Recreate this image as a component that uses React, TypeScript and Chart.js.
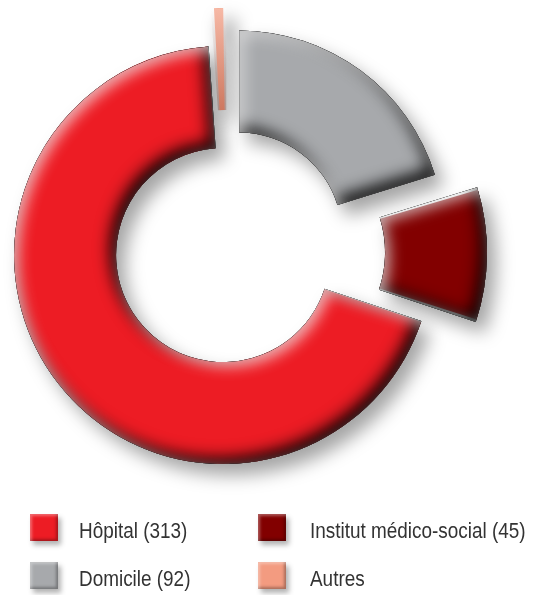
import React, { useEffect, useRef } from "react";
import { Chart, ArcElement, DoughnutController } from "chart.js";

Chart.register(ArcElement, DoughnutController);

// Data (clockwise from 12 o'clock)
const categories = ["Domicile", "Institut médico-social", "Hôpital", "Autres"];
const values = [92, 45, 313, 5];
const showValueInLegend = [true, true, true, false];
const colors = ["#A7A9AC", "#820000", "#ED1C24", "#F39B80"];
// legend reading order: column 1 (Hôpital, Domicile), column 2 (Institut, Autres)
const legendOrder = [2, 0, 1, 3];

function arcGeom(el: any) {
  const p = el.getProps(
    ["x", "y", "startAngle", "endAngle", "innerRadius", "outerRadius", "circumference"],
    true
  );
  const off = (el.options.offset || 0) / 4;
  const half = (p.startAngle + p.endAngle) / 2;
  const fix = 1 - Math.sin(Math.min(Math.PI, p.circumference || 0));
  const ro = off * fix;
  return {
    cx: p.x + Math.cos(half) * off,
    cy: p.y + Math.sin(half) * off,
    R: p.outerRadius + ro,
    r: p.innerRadius + ro,
    s: p.startAngle,
    e: p.endAngle,
    c: p.circumference,
  };
}

function addArcPath(ctx: CanvasRenderingContext2D, g: any) {
  ctx.moveTo(g.cx + Math.cos(g.s) * g.R, g.cy + Math.sin(g.s) * g.R);
  ctx.arc(g.cx, g.cy, g.R, g.s, g.e);
  ctx.arc(g.cx, g.cy, g.r, g.e, g.s, true);
  ctx.closePath();
}

const shadowPlugin = {
  id: "bevelShadow",
  beforeDatasetsDraw(chart: any) {
    const ctx = chart.ctx as CanvasRenderingContext2D;
    const meta = chart.getDatasetMeta(0);
    ctx.save();
    ctx.translate(-10000, 0);
    ctx.shadowColor = "rgba(0,0,0,0.36)";
    ctx.shadowBlur = 18;
    ctx.shadowOffsetX = 10000 + 9;
    ctx.shadowOffsetY = 11;
    ctx.fillStyle = "#000";
    meta.data.forEach((el: any) => {
      const g = arcGeom(el);
      ctx.beginPath();
      addArcPath(ctx, g);
      ctx.fill();
    });
    ctx.restore();
  },
  afterDatasetsDraw(chart: any) {
    const ctx = chart.ctx as CanvasRenderingContext2D;
    const meta = chart.getDatasetMeta(0);
    meta.data.forEach((el: any) => {
      const g = arcGeom(el);
      const thin = g.c < 0.2;
      ctx.save();
      ctx.beginPath();
      addArcPath(ctx, g);
      ctx.clip();
      if (thin) {
        // thin slice: soft vertical shading only
        const grad = ctx.createLinearGradient(0, g.cy - g.R, 0, g.cy - g.r);
        grad.addColorStop(0, "rgba(255,255,255,0.3)");
        grad.addColorStop(1, "rgba(120,40,20,0.3)");
        ctx.fillStyle = grad;
        ctx.fillRect(g.cx - g.R, g.cy - g.R, 2 * g.R, 2 * g.R);
        ctx.restore();
        return;
      }
      ctx.beginPath();
      ctx.rect(-5000, -5000, 10000, 10000);
      addArcPath(ctx, g);
      ctx.fillStyle = "#000";
      ctx.shadowColor = "rgba(0,0,0,0.95)";
      ctx.shadowBlur = 16;
      ctx.shadowOffsetX = -6;
      ctx.shadowOffsetY = -6;
      ctx.fill("evenodd");
      ctx.shadowColor = "rgba(255,255,255,0.65)";
      ctx.shadowBlur = 14;
      ctx.shadowOffsetX = 5;
      ctx.shadowOffsetY = 5;
      ctx.fill("evenodd");
      ctx.restore();
    });
  },
};

export default function App() {
  const canvasRef = useRef<HTMLCanvasElement | null>(null);

  useEffect(() => {
    if (!canvasRef.current) return;
    const chart = new Chart(canvasRef.current, {
      type: "doughnut",
      data: {
        labels: categories,
        datasets: [
          {
            data: values,
            backgroundColor: colors,
            borderWidth: 0,
            offset: [82, 158, 20, 83],
            hoverOffset: 0,
          },
        ],
      },
      options: {
        animation: false,
        responsive: false,
        events: [],
        cutout: "50%",
        radius: 204,
        rotation: 0,
        layout: { padding: { left: 0, right: 79, top: 0, bottom: 91 } },
        plugins: {
          legend: { display: false },
          tooltip: { enabled: false },
        },
      } as any,
      plugins: [shadowPlugin],
    });
    return () => chart.destroy();
  }, []);

  const font = "'Liberation Sans', Arial, sans-serif";
  const colX = [[30, 79], [258, 310]];
  const rowY = [514, 562];

  return (
    <div style={{ position: "absolute", left: 0, top: 0, width: 533, height: 595, background: "#fff" }}>
      <canvas ref={canvasRef} width={533} height={595} style={{ position: "absolute", left: 0, top: 0 }} />
      {legendOrder.map((idx, k) => {
        const col = Math.floor(k / 2);
        const row = k % 2;
        const label = showValueInLegend[idx] ? `${categories[idx]} (${values[idx]})` : categories[idx];
        return (
          <React.Fragment key={idx}>
            <div
              style={{
                position: "absolute",
                left: colX[col][0],
                top: rowY[row],
                width: 28,
                height: 27,
                background: colors[idx],
                boxShadow:
                  "3px 4px 5px rgba(0,0,0,0.3), inset 2px 2px 3px rgba(255,255,255,0.35), inset -2px -2px 3px rgba(0,0,0,0.3)",
              }}
            />
            <div
              style={{
                position: "absolute",
                left: colX[col][1],
                top: rowY[row] + 6,
                fontFamily: font,
                fontSize: 22,
                lineHeight: "22px",
                color: "#333",
                whiteSpace: "nowrap",
                transform: "scaleX(0.86)",
                transformOrigin: "left top",
              }}
            >
              {label}
            </div>
          </React.Fragment>
        );
      })}
    </div>
  );
}
